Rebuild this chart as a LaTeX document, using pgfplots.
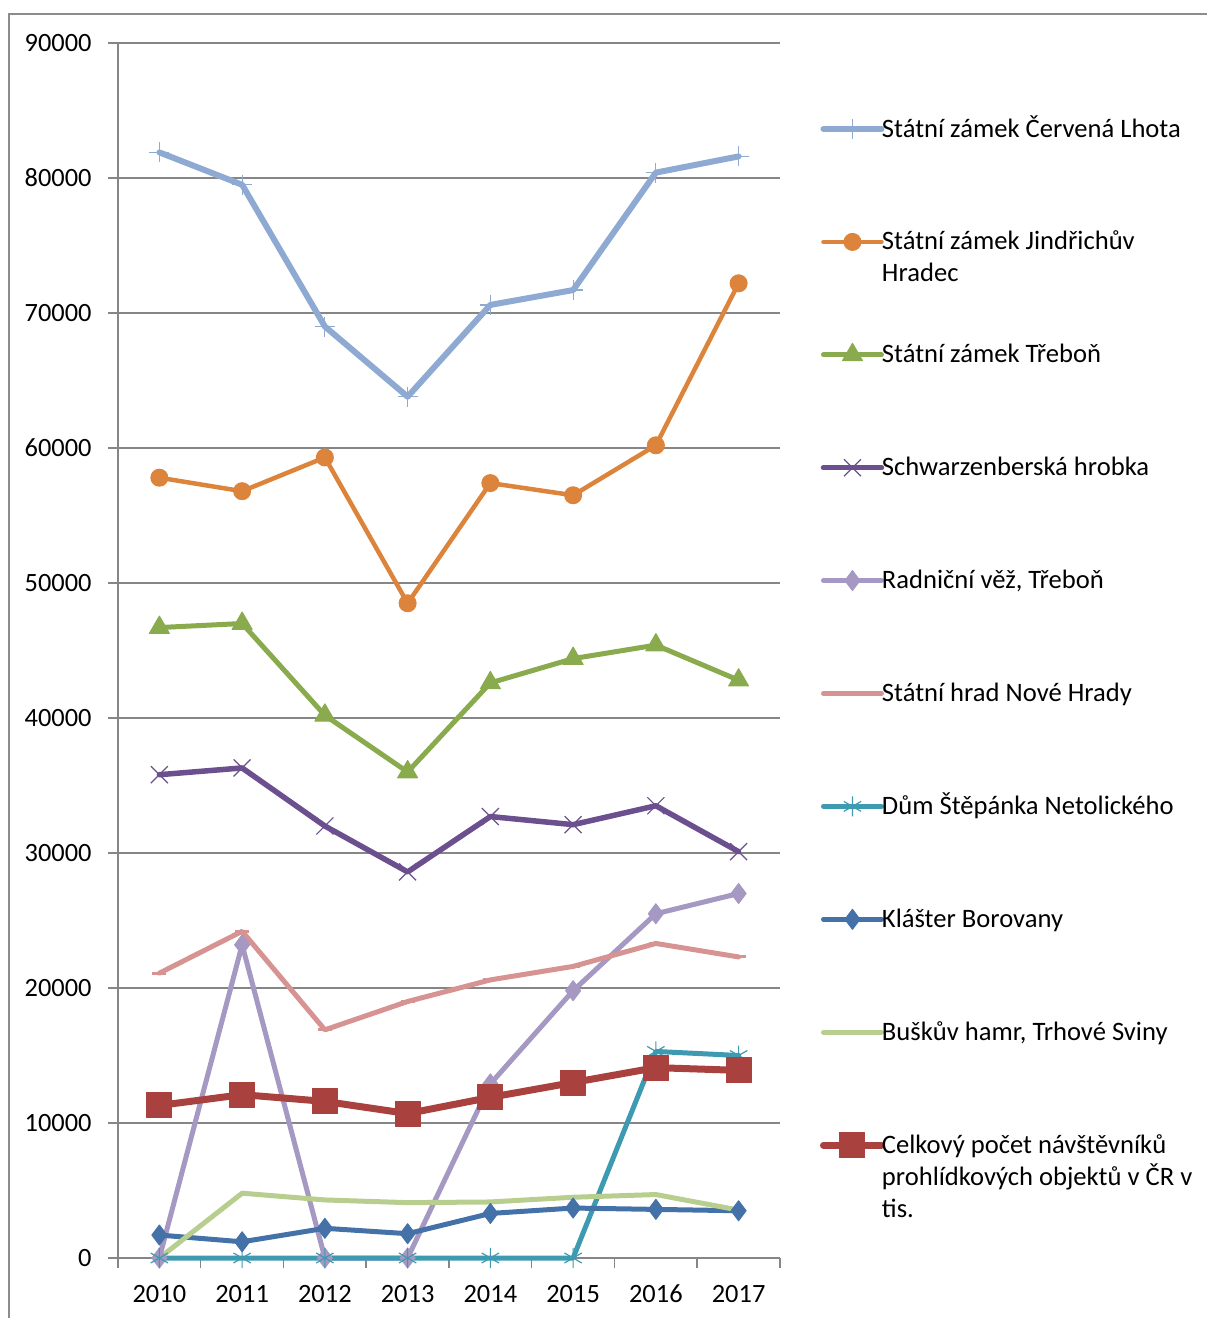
\documentclass[border=0pt]{standalone}
\usepackage{fontspec}
\setmainfont{Carlito}
\usepackage{pgfplots}
\pgfplotsset{compat=1.18}
\definecolor{framegray}{HTML}{8C8C8C}
\definecolor{axisgray}{HTML}{868686}
\definecolor{cA}{HTML}{8FAAD2}
\definecolor{cB}{HTML}{DD843C}
\definecolor{cC}{HTML}{8AAA4E}
\definecolor{cD}{HTML}{6C4F8E}
\definecolor{cE}{HTML}{A598C2}
\definecolor{cF}{HTML}{D79392}
\definecolor{cG}{HTML}{3D9AB0}
\definecolor{cH}{HTML}{4471A8}
\definecolor{cI}{HTML}{B7CE8F}
\definecolor{cJ}{HTML}{A9423F}
\newcommand{\lgd}[1]{\parbox[t]{170pt}{\raggedright\rule{0pt}{12pt}#1}}
\begin{document}
\begin{tikzpicture}
\useasboundingbox (0,0) rectangle (603pt,659pt);
\draw[color=framegray, line width=0.75pt] (4.5pt,0) -- (4.5pt,652pt) -- (604pt,652pt);
\begin{axis}[
  at={(59pt,30pt)}, anchor=south west,
  scale only axis, width=331pt, height=607.5pt,
  xmin=-0.5, xmax=7.5, ymin=0, ymax=90000,
  clip=false,
  axis lines*=left,
  axis line style={draw=axisgray, line width=0.75pt},
  xtick={0,...,7}, xticklabels={2010,2011,2012,2013,2014,2015,2016,2017},
  minor xtick={-0.5,0.5,...,7.5},
  ytick={0,10000,...,90000},
  tick align=outside, major tick length=5pt, minor tick length=5pt,
  tick style={axisgray, line width=0.75pt},
  major x tick style={draw=none},
  ymajorgrids, grid style={axisgray, line width=0.75pt},
  scaled y ticks=false,
  /pgf/number format/set thousands separator={},
  /pgf/number format/assume math mode=true,
  tick label style={font=\fontsize{13.2}{16}\selectfont, text=black},
  yticklabel style={inner sep=0pt, xshift=-8pt},
  xticklabel style={inner sep=0pt, text height=9pt, text depth=0pt, yshift=-7.8pt},
  legend image code/.code={\draw[mark repeat=2,mark phase=2,#1] plot coordinates {(0pt,4pt) (14.5pt,4pt) (29pt,4pt)};},
  legend style={at={(axis description cs:1.0604,0.9424)}, anchor=north west, draw=none, fill=none,
    inner sep=0pt, outer sep=0pt, row sep=0pt, column sep=-1.5pt,
    font=\fontsize{13.3}{16}\selectfont,
    nodes={anchor=base west, inner sep=0pt, outer sep=0pt, text height=12pt, text depth=44.45pt}},
  every axis plot/.append style={line join=round, line cap=round},
]
\addplot[color=cA, line width=3pt, mark=+, mark size=5pt, mark options={line width=0.6pt, line cap=butt}]
  coordinates {(0,81900) (1,79500) (2,69000) (3,63800) (4,70600) (5,71700) (6,80400) (7,81600)};
\addlegendentry{\lgd{Státní zámek Červená Lhota}}
\addplot[color=cB, line width=2.25pt, mark=*, mark size=4.25pt, mark options={fill=cB, line width=0.5pt}]
  coordinates {(0,57800) (1,56800) (2,59300) (3,48500) (4,57400) (5,56500) (6,60200) (7,72200)};
\addlegendentry{\lgd{Státní zámek Jindřichův\\Hradec}}
\addplot[color=cC, line width=2.5pt, mark=triangle*, mark size=5.75pt, mark options={fill=cC, line width=0.5pt}]
  coordinates {(0,46700) (1,47000) (2,40200) (3,36000) (4,42600) (5,44400) (6,45400) (7,42800)};
\addlegendentry{\lgd{Státní zámek Třeboň}}
\addplot[color=cD, line width=2.75pt, mark=x, mark size=6pt, mark options={line width=0.6pt, line cap=butt}]
  coordinates {(0,35800) (1,36300) (2,32000) (3,28600) (4,32700) (5,32100) (6,33500) (7,30100)};
\addlegendentry{\lgd{Schwarzenberská hrobka}}
\addplot[color=cE, line width=2.5pt, mark=diamond*, mark size=5pt, mark options={fill=cE, line width=0.5pt}]
  coordinates {(0,0) (1,23200) (2,0) (3,0) (4,12900) (5,19800) (6,25500) (7,27000)};
\addlegendentry{\lgd{Radniční věž, Třeboň}}
\addplot[color=cF, line width=2.5pt, mark=-, mark size=3.5pt, mark options={line width=1.5pt, line cap=butt}]
  coordinates {(0,21100) (1,24200) (2,16900) (3,19000) (4,20600) (5,21600) (6,23300) (7,22300)};
\addlegendentry{\lgd{Státní hrad Nové Hrady}}
\addplot[color=cG, line width=2.5pt, mark=asterisk, mark size=5pt, mark options={line width=0.6pt, line cap=butt}]
  coordinates {(0,0) (1,0) (2,0) (3,0) (4,0) (5,0) (6,15300) (7,15000)};
\addlegendentry{\lgd{Dům Štěpánka Netolického}}
\addplot[color=cH, line width=2.5pt, mark=diamond*, mark size=5pt, mark options={fill=cH, line width=0.5pt}]
  coordinates {(0,1700) (1,1200) (2,2200) (3,1800) (4,3300) (5,3700) (6,3600) (7,3500)};
\addlegendentry{\lgd{Klášter Borovany}}
\addplot[color=cI, line width=2.5pt, mark=none]
  coordinates {(0,0) (1,4800) (2,4300) (3,4100) (4,4150) (5,4500) (6,4700) (7,3550)};
\addlegendentry{\lgd{Buškův hamr, Trhové Sviny}}
\addplot[color=cJ, line width=3.5pt, mark=square*, mark size=6.25pt, mark options={fill=cJ, line width=0.5pt}]
  coordinates {(0,11300) (1,12100) (2,11600) (3,10700) (4,11900) (5,13000) (6,14100) (7,13900)};
\addlegendentry{\lgd{Celkový počet návštěvníků\\prohlídkových objektů v ČR v\\tis.}}
\end{axis}
\end{tikzpicture}
\end{document}
